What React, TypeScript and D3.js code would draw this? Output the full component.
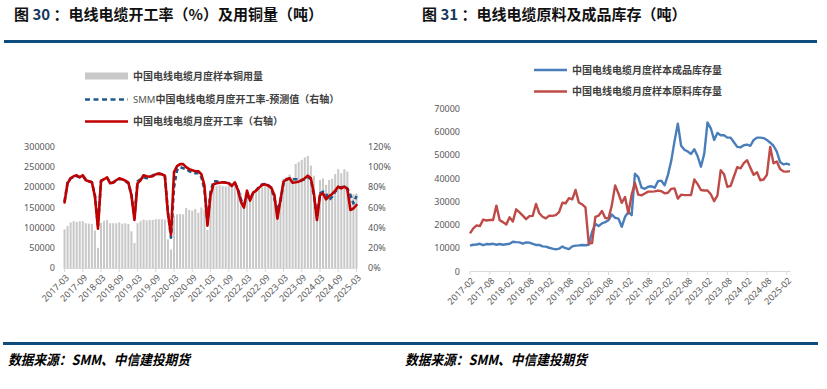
import { useEffect, useRef } from "react";
import * as d3 from "d3";

// ---- chart 30: copper usage (bars, left axis) + operating rate (lines, right axis), 2017-03 .. 2025-03
const copperUse = [
  96000, 104000, 113000, 116000, 114000, 116000, 116000, 111000, 110000, 109000, 93000, 50000,
  112000, 117000, 119000, 111000, 111000, 111000, 113000, 110000, 111000, 109000, 91000, 62000,
  111000, 116000, 120000, 118000, 119000, 119000, 121000, 121000, 121000, 120000, 71000, 46000,
  130000, 133000, 134000, 133000, 149000, 144000, 142000, 146000, 137000, 150000, 145000, 94000,
  185000, 200000, 203000, 205000, 203000, 202000, 205000, 200000, 204000, 198000, 185000, 150000,
  180000, 170000, 185000, 190000, 195000, 200000, 205000, 203000, 198000, 185000, 150000, 175000,
  222000, 225000, 232000, 224000, 258000, 263000, 268000, 274000, 278000, 254000, 229000, 160000,
  218000, 222000, 206000, 218000, 221000, 233000, 245000, 235000, 245000, 239000, 185000, 183000,
  185000
];
const openRate = [
  65, 84, 89, 91, 92, 90, 92, 87, 86, 85, 71, 39,
  86.6, 88, 90, 84, 84.6, 87, 89, 88, 86.6, 84.6, 72, 47.6,
  84, 87, 92, 91, 90.6, 91, 93, 93.6, 93, 91.5, 54, 33,
  95, 101, 103, 103, 100, 98, 97, 96, 96, 93, 82, 42,
  72, 83, 84, 84.6, 85, 84.6, 84, 81.3, 85, 77.4, 65.8, 59.8,
  76.7, 66.8, 74.7, 76.7, 79.7, 82.3, 83, 81.6, 79.7, 72.4, 49, 67.4,
  85.6, 88, 89, 84.6, 85, 85.6, 87, 89, 91.6, 89, 74, 47.6,
  72.4, 74, 68, 71.4, 73.4, 76.7, 80.7, 79, 80.7, 78.3, 57.5, 59,
  62.5
];
const openRateForecast = [
  66, 85, 89, 90, 91, 90, 91, 88, 86, 85, 72, 42,
  86, 88, 89, 85, 85, 87, 88, 88, 86, 84, 73, 50,
  86, 88, 90, 89, 90, 92, 93, 93.5, 93, 91, 56, 30,
  80, 97, 100, 99, 98, 96, 95, 94, 94, 90, 78, 45,
  76, 86, 86, 85, 85, 85, 84, 82, 84, 79, 68, 63,
  71, 69, 74, 77, 80.7, 83, 83.3, 82.3, 79, 69, 57, 66,
  84, 87, 89, 88, 88, 88, 87, 88, 90, 88, 72, 50,
  74, 75.7, 74, 67.4, 70.7, 75.7, 79, 80, 80.7, 79, 72.4, 64,
  71.4
];
const leftTicks = [
  "2017-03", "2017-09", "2018-03", "2018-09", "2019-03", "2019-09", "2020-03", "2020-09",
  "2021-03", "2021-09", "2022-03", "2022-09", "2023-03", "2023-09", "2024-03", "2024-09", "2025-03"
];
const leftYTicks = [0, 50000, 100000, 150000, 200000, 250000, 300000];
const rightPctTicks = [0, 20, 40, 60, 80, 100, 120];

// ---- chart 31: inventories, 2017-02 .. 2025-03
const finishedStock = [
  11100, 11500, 11600, 11900, 11300, 11800, 11700, 11900, 11500, 11800, 11500, 11700,
  11900, 12800, 12600, 12500, 12000, 12500, 12400, 11900, 11400, 11400, 10800, 10700,
  10200, 9800, 9500, 9800, 10700, 10000, 9600, 10800, 11100, 11200, 11400, 11300,
  11500, 17000, 20500, 19500, 20700, 21200, 22000, 24500, 23000, 22700, 19200, 23500,
  25500, 24200, 42000, 40500, 36000, 35500, 36400, 36600, 36000, 38800, 39000, 37000,
  41500, 47500, 56000, 63500, 54000, 52300, 51500, 50500, 52500, 49500, 45000, 50500,
  64000, 61500, 56500, 59500, 58500, 58500, 57500, 57500, 55500, 53500, 53300, 54200,
  54500, 54000, 56500, 57500, 57500, 57300, 56500, 55300, 54000, 51500, 47000, 46000,
  46300, 45800
];
const rawStock = [
  16400, 18500, 19800, 19500, 22300, 21900, 22100, 22100, 28300, 22000, 21200, 20200,
  23300, 21500, 26700, 25400, 24000, 22500, 23800, 23900, 29000, 25000, 23500, 22800,
  24000, 23900, 24200, 25500, 29500, 29300, 31500, 31000, 35000, 29600, 28800, 27500,
  12000, 12200, 23500, 24000, 26000, 23000, 22800, 28500, 37000, 33500, 29500, 32000,
  25000, 33000, 38000, 33000, 32700, 33500, 34300, 34300, 34400, 34700, 34500, 33600,
  33800, 35500, 35700, 31300, 33000, 32800, 32800, 32800, 39500, 37500, 35000, 34800,
  34800, 33200, 30200, 32600, 43500, 41800, 36400, 36800, 40800, 44800, 44300, 46500,
  47800, 44500, 41500, 42600, 39200, 39500, 41500, 53500, 46500, 47200, 44000, 43000,
  42900, 43100
];
const rightTicks = [
  "2017-02", "2017-08", "2018-02", "2018-08", "2019-02", "2019-08", "2020-02", "2020-08",
  "2021-02", "2021-08", "2022-02", "2022-08", "2023-02", "2023-08", "2024-02", "2024-08", "2025-02"
];
const stockYTicks = [0, 10000, 20000, 30000, 40000, 50000, 60000, 70000];

const W = 827, H = 389;
const CJK = "'Noto Sans CJK SC', 'Noto Sans', sans-serif";
const NUM = "'Noto Sans', 'DejaVu Sans', sans-serif";
const LABEL = "#595959";

export default function App() {
  const ref = useRef<SVGSVGElement | null>(null);

  useEffect(() => {
    const svg = d3.select(ref.current);
    svg.selectAll("*").remove();
    svg.append("rect").attr("width", W).attr("height", H).attr("fill", "#fff");

    // titles + rules
    const title = (x: number, num: string, rest: string) => {
      const t = svg.append("text")
        .attr("x", x).attr("y", 20)
        .attr("font-family", CJK).attr("font-size", 15).attr("font-weight", "bold")
        .attr("fill", "#111");
      t.append("tspan").text("图 ");
      t.append("tspan").attr("fill", "#17375E").text(num);
      t.append("tspan").text(" ：" + rest);
    };
    title(14, "30", "电线电缆开工率（%）及用铜量（吨）");
    title(422, "31", "电线电缆原料及成品库存（吨）");

    svg.append("rect").attr("x", 4).attr("y", 40).attr("width", 813).attr("height", 3).attr("fill", "#0E4C7D");
    svg.append("rect").attr("x", 3).attr("y", 342).attr("width", 815).attr("height", 3).attr("fill", "#0E4C7D");

    [8, 405].forEach(x => {
      svg.append("text")
        .attr("x", x).attr("y", 365)
        .attr("font-family", CJK).attr("font-size", 14).attr("font-weight", "bold")
        .attr("font-style", "italic")
        .attr("textLength", 182).attr("lengthAdjust", "spacingAndGlyphs")
        .attr("fill", "#000")
        .text("数据来源：SMM、中信建投期货");
    });

    // ---------- left chart ----------
    const idxL = d3.range(copperUse.length);
    const xL = d3.scaleBand<number>().domain(idxL).range([63.5, 357.5]).paddingInner(0.33);
    const cx = (i: number) => (xL(i) ?? 0) + xL.bandwidth() / 2;
    const yL = d3.scaleLinear().domain([0, 300000]).range([268, 147]);
    const yP = d3.scaleLinear().domain([0, 120]).range([268, 147]);

    // legend
    const lg = svg.append("g").attr("font-family", CJK).attr("font-size", 10).attr("font-weight", "bold").attr("fill", "#404040");
    lg.append("rect").attr("x", 85).attr("y", 72.5).attr("width", 43).attr("height", 7).attr("fill", "#C8C8C8");
    lg.append("text").attr("x", 133).attr("y", 76).attr("dy", "0.35em").text("中国电线电缆月度样本铜用量");
    lg.append("line").attr("x1", 85).attr("x2", 128).attr("y1", 99.5).attr("y2", 99.5)
      .attr("stroke", "#1F5A8C").attr("stroke-width", 2.5).attr("stroke-dasharray", "5 3.5");
    const l2 = lg.append("text").attr("x", 133).attr("y", 99.5).attr("dy", "0.35em");
    l2.append("tspan").attr("font-family", NUM).attr("font-weight", "normal").attr("fill", "#595959").attr("font-size", 9.5).text("SMM");
    l2.append("tspan").text("中国电线电缆月度开工率-预测值（右轴）");
    lg.append("line").attr("x1", 85).attr("x2", 128).attr("y1", 121.5).attr("y2", 121.5)
      .attr("stroke", "#C00000").attr("stroke-width", 2.5);
    lg.append("text").attr("x", 133).attr("y", 121.5).attr("dy", "0.35em").text("中国电线电缆月度开工率（右轴）");

    // bars
    svg.append("g").selectAll("rect").data(copperUse).enter().append("rect")
      .attr("x", (_, i) => xL(i) ?? 0)
      .attr("width", xL.bandwidth())
      .attr("y", d => yL(d))
      .attr("height", d => yL(0) - yL(d))
      .attr("fill", "#C8C8C8");

    // axes
    const axL = svg.append("g").attr("font-family", NUM).attr("font-size", 9).attr("fill", LABEL);
    leftYTicks.forEach(v => {
      axL.append("text").attr("x", 55).attr("y", yL(v)).attr("dy", "0.35em").attr("text-anchor", "end").text(String(v));
    });
    rightPctTicks.forEach(v => {
      axL.append("text").attr("x", 368).attr("y", yP(v)).attr("dy", "0.35em").text(v + "%");
    });
    svg.append("line").attr("x1", 63.5).attr("x2", 357.5).attr("y1", 268.5).attr("y2", 268.5)
      .attr("stroke", "#D9D9D9").attr("stroke-width", 1);
    leftTicks.forEach((lab, k) => {
      const x = cx(k * 6);
      svg.append("line").attr("x1", x).attr("x2", x).attr("y1", 268.5).attr("y2", 272)
        .attr("stroke", "#D9D9D9");
      axL.append("text")
        .attr("transform", `translate(${x + 3},${276}) rotate(-45)`)
        .attr("text-anchor", "end").attr("dy", "0.35em")
        .text(lab);
    });

    const lineL = (arr: number[]) => d3.line<number>().x((_, i) => cx(i)).y(d => yP(d))(arr) ?? "";
    svg.append("path").attr("d", lineL(openRateForecast))
      .attr("fill", "none").attr("stroke", "#1F5A8C").attr("stroke-width", 2.6)
      .attr("stroke-dasharray", "4.5 3").attr("stroke-linejoin", "round");
    svg.append("path").attr("d", lineL(openRate))
      .attr("fill", "none").attr("stroke", "#C00000").attr("stroke-width", 2.6)
      .attr("stroke-linejoin", "round").attr("stroke-linecap", "round");

    // ---------- right chart ----------
    const idxR = d3.range(finishedStock.length);
    const xR = d3.scaleLinear().domain([0, 96]).range([470, 786.7]);
    const yS = d3.scaleLinear().domain([0, 70000]).range([271.5, 108.5]);

    const rg = svg.append("g").attr("font-family", CJK).attr("font-size", 10).attr("font-weight", "bold").attr("fill", "#404040");
    rg.append("line").attr("x1", 534).attr("x2", 567).attr("y1", 70).attr("y2", 70)
      .attr("stroke", "#4A7EBB").attr("stroke-width", 2.5);
    rg.append("text").attr("x", 572).attr("y", 70).attr("dy", "0.35em").text("中国电线电缆月度样本成品库存量");
    rg.append("line").attr("x1", 534).attr("x2", 567).attr("y1", 91.5).attr("y2", 91.5)
      .attr("stroke", "#BE4B48").attr("stroke-width", 2.5);
    rg.append("text").attr("x", 572).attr("y", 91.5).attr("dy", "0.35em").text("中国电线电缆月度样本原料库存量");

    const axR = svg.append("g").attr("font-family", NUM).attr("font-size", 9).attr("fill", LABEL);
    stockYTicks.forEach(v => {
      axR.append("text").attr("x", 460).attr("y", yS(v)).attr("dy", "0.35em").attr("text-anchor", "end").text(String(v));
    });
    svg.append("line").attr("x1", 470).attr("x2", xR(idxR.length - 1) + 0.5).attr("y1", 271.5).attr("y2", 271.5)
      .attr("stroke", "#D9D9D9");
    rightTicks.forEach((lab, k) => {
      const x = xR(k * 6);
      svg.append("line").attr("x1", x).attr("x2", x).attr("y1", 271.5).attr("y2", 275).attr("stroke", "#D9D9D9");
      axR.append("text")
        .attr("transform", `translate(${x + 3},${279}) rotate(-45)`)
        .attr("text-anchor", "end").attr("dy", "0.35em")
        .text(lab);
    });

    const lineR = (arr: number[]) => d3.line<number>().x((_, i) => xR(i)).y(d => yS(d))(arr) ?? "";
    svg.append("path").attr("d", lineR(finishedStock))
      .attr("fill", "none").attr("stroke", "#4A7EBB").attr("stroke-width", 2.4).attr("stroke-linejoin", "round");
    svg.append("path").attr("d", lineR(rawStock))
      .attr("fill", "none").attr("stroke", "#BE4B48").attr("stroke-width", 2.4).attr("stroke-linejoin", "round");
  }, []);

  return (
    <svg ref={ref} width={W} height={H} viewBox={`0 0 ${W} ${H}`}
      style={{ position: "absolute", left: 0, top: 0, display: "block" }} />
  );
}
